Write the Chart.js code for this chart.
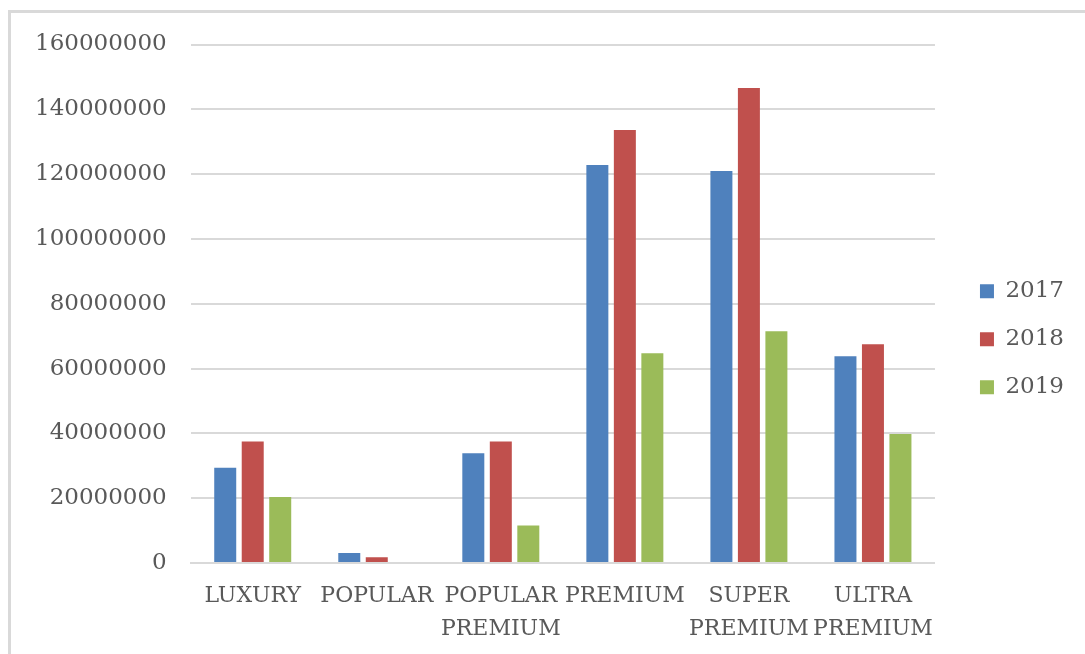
<!DOCTYPE html>
<html>
<head>
<meta charset="utf-8">
<script src="https://cdn.jsdelivr.net/npm/chart.js@4.4.0/dist/chart.umd.min.js"></script>
<style>
  html, body { margin: 0; padding: 0; background: #fff; }
  #frame {
    position: absolute; left: 8px; top: 10px;
    width: 1077px; height: 644px;
    border-top: 3px solid #d9d9d9; border-left: 3px solid #d9d9d9;
    box-sizing: border-box;
  }
  #box { position: absolute; left: 0; top: 0; width: 1074px; height: 641px; }
</style>
</head>
<body>
<div id="frame"><div id="box"><canvas id="myChart"></canvas></div></div>
<script>
// categories and series
const categories = ["LUXURY", "POPULAR", ["POPULAR", "PREMIUM"], "PREMIUM", ["SUPER", "PREMIUM"], ["ULTRA", "PREMIUM"]];
const years = ["2017", "2018", "2019"];
const values2017 = [29400000, 3100000, 33900000, 122800000, 121000000, 63800000];
const values2018 = [37500000, 1800000, 37500000, 133600000, 146600000, 67500000];
const values2019 = [20400000, 0, 11600000, 64700000, 71500000, 39800000];
const yTicks = [0, 20000000, 40000000, 60000000, 80000000, 100000000, 120000000, 140000000, 160000000];

const colors = ["#4F81BD", "#C0504D", "#9BBB59"];
const font = { family: "'DejaVu Serif', serif", size: 23 };

// move the legend a bit right and up
const legendShift = {
  id: "legendShift",
  afterLayout: function (chart) {
    if (chart.legend) {
      chart.legend.left += 20;
      chart.legend.right += 20;
      chart.legend.top -= 21;
      chart.legend.bottom -= 21;
    }
  },
};

const ctx = document.getElementById("myChart").getContext("2d");
const myChart = new Chart(ctx, {
  type: "bar",
  data: {
    labels: categories,
    datasets: [values2017, values2018, values2019].map(function (vals, i) {
      return {
        label: years[i],
        data: vals,
        backgroundColor: colors[i],
        borderWidth: 0,
        categoryPercentage: 0.665,
        barPercentage: 0.8,
      };
    }),
  },
  options: {
    responsive: true,
    maintainAspectRatio: false,
    animation: false,
    layout: { padding: { left: 0, top: 31.5, right: 31, bottom: -9 } },
    scales: {
      x: {
        grid: { display: false, drawTicks: false },
        border: { color: "#d9d9d9", width: 2 },
        ticks: {
          color: "#595959",
          font: { family: font.family, size: 22, lineHeight: 1.5 },
          padding: 17,
          maxRotation: 0,
          autoSkip: false,
        },
      },
      y: {
        min: yTicks[0],
        max: yTicks[yTicks.length - 1],
        grid: { color: "#d9d9d9", lineWidth: 2, drawTicks: false },
        border: { display: false },
        afterBuildTicks: function (axis) {
          axis.ticks = yTicks.map(function (v) { return { value: v }; });
        },
        afterFit: function (axis) {
          axis.paddingTop = 0;
          axis.paddingBottom = 0;
        },
        ticks: {
          color: "#595959",
          font: font,
          padding: 24,
          callback: function (value) { return String(value); },
        },
      },
    },
    plugins: {
      tooltip: { enabled: false },
      legend: {
        position: "right",
        title: { display: true, text: " ", font: { size: 10 }, padding: { top: 1, bottom: 0 } },
        labels: { color: "#595959", font: font, boxWidth: 14, boxHeight: 14, padding: 25 },
      },
    },
  },
  plugins: [legendShift],
});
</script>
</body>
</html>
